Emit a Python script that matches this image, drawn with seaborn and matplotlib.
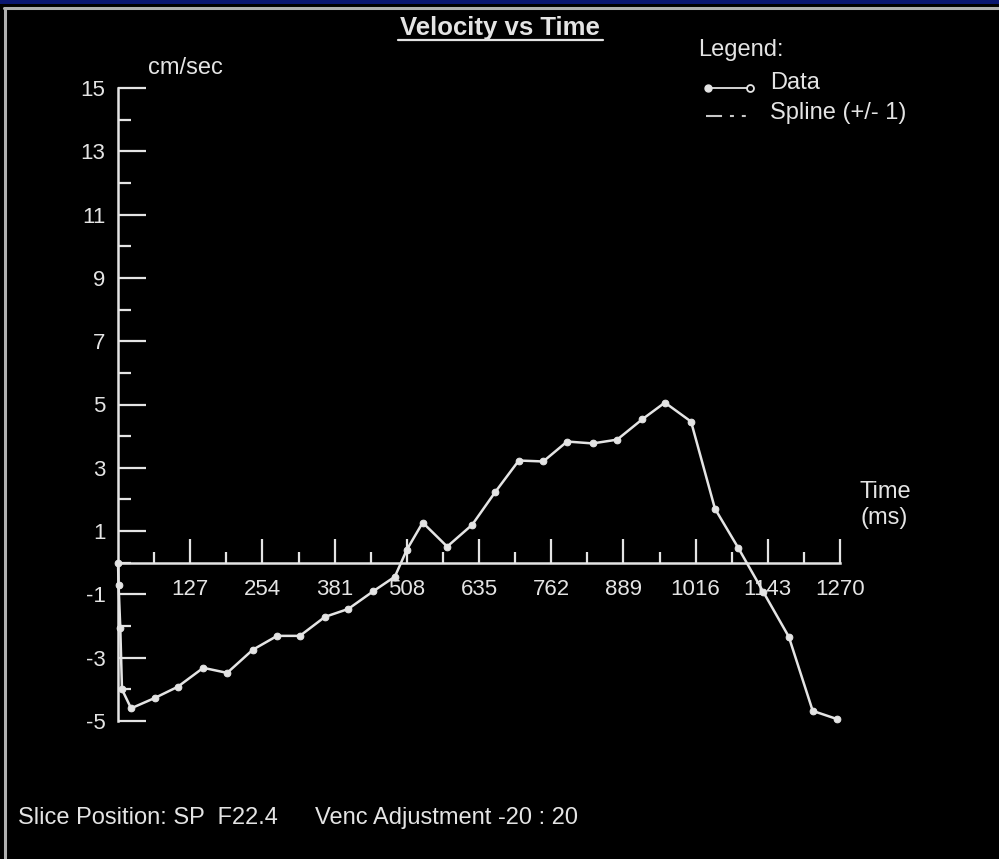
import numpy as np
import pandas as pd
import matplotlib
matplotlib.use("Agg")
import matplotlib.pyplot as plt
import seaborn as sns
from matplotlib.lines import Line2D
from matplotlib.patches import Rectangle

# ---- data ----
time_ms = [0, 1, 4, 7, 23, 65, 105, 150, 192, 237, 280, 320, 364, 405, 449,
           487, 508, 536, 579, 623, 663, 705, 748, 790, 835, 878, 922, 962,
           1008, 1050, 1091, 1135, 1180, 1222, 1265]
velocity = [0.0, -0.7, -2.05, -4.0, -4.6, -4.27, -3.92, -3.32, -3.48, -2.75,
            -2.31, -2.31, -1.71, -1.46, -0.9, -0.44, 0.41, 1.27, 0.51, 1.2,
            2.22, 3.23, 3.2, 3.83, 3.77, 3.89, 4.53, 5.06, 4.46, 1.71, 0.47,
            -0.92, -2.34, -4.68, -4.94]
x_major = [127, 254, 381, 508, 635, 762, 889, 1016, 1143, 1270]
x_labels = [str(v) for v in x_major]
y_major = [-5, -3, -1, 1, 3, 5, 7, 9, 11, 13, 15]
y_minor = [-4, -2, 0, 2, 4, 6, 8, 10, 12, 14]

df = pd.DataFrame({"time": time_ms, "velocity": velocity})

W, H = 999, 859
FG = "#e4e4e4"
sns.set_theme(style="dark", rc={"axes.facecolor": "black", "figure.facecolor": "black",
                                "axes.grid": False, "xtick.bottom": True,
                                "ytick.left": True})
plt.rcParams["font.family"] = ["Liberation Sans", "DejaVu Sans"]


def fx(px):
    return px / W


def fy(py):
    return 1 - py / H


fig = plt.figure(figsize=(W / 100, H / 100), dpi=100, facecolor="black")

# frame decoration
fig.add_artist(Rectangle((0, fy(4)), 1, 4 / H, transform=fig.transFigure,
                         color="#0a1670", lw=0))
fig.add_artist(Line2D([fx(4), 1], [fy(8), fy(8)], transform=fig.transFigure,
                      color="#b0b0b0", lw=2.2))
fig.add_artist(Line2D([fx(5), fx(5)], [fy(8), 0], transform=fig.transFigure,
                      color="#b0b0b0", lw=2.2))

ax = fig.add_axes([fx(118), fy(721), 722 / W, 633 / H])
ax.set_facecolor("none")

sns.lineplot(data=df, x="time", y="velocity", ax=ax, sort=False, estimator=None,
             color=FG, lw=1.8, marker="o", markersize=4.8, markeredgecolor=FG,
             markerfacecolor=FG, clip_on=False)

ax.set_xlim(0, 1270)
ax.set_ylim(-5, 15)
ax.set_xlabel("")
ax.set_ylabel("")
ax.grid(False)

for s in ["top", "right"]:
    ax.spines[s].set_visible(False)
ax.spines["left"].set_position(("data", 0))
ax.spines["bottom"].set_position(("data", 0))
ax.spines["left"].set_bounds(-5, 15)
ax.spines["bottom"].set_bounds(0, 1270)
for s in ["left", "bottom"]:
    ax.spines[s].set_color(FG)
    ax.spines[s].set_linewidth(1.8)

ax.set_xticks(x_major)
ax.set_xticklabels(x_labels)
ax.set_xticks([v - 63.5 for v in x_major], minor=True)
ax.set_yticks(y_major)
ax.set_yticklabels([str(v) for v in y_major])
ax.set_yticks(y_minor, minor=True)

ax.tick_params(axis="x", which="both", bottom=True, top=False)
ax.tick_params(axis="y", which="both", left=True, right=False)
ax.tick_params(axis="x", which="major", direction="in", length=17, width=1.6,
               color=FG, pad=12, labelsize=16, labelcolor=FG)
ax.tick_params(axis="x", which="minor", direction="in", length=8, width=1.6,
               color=FG)
ax.tick_params(axis="y", which="major", direction="in", length=20, width=1.6,
               color=FG, pad=9, labelsize=16, labelcolor=FG)
ax.tick_params(axis="y", which="minor", direction="in", length=9, width=1.6,
               color=FG)

# texts
fig.text(fx(500), fy(28), "Velocity vs Time", ha="center", va="center",
         fontsize=18.5, weight="bold", color=FG)
fig.add_artist(Line2D([fx(398), fx(603)], [fy(40), fy(40)], transform=fig.transFigure,
                      color=FG, lw=1.6))
fig.text(fx(148), fy(68), "cm/sec", ha="left", va="center", fontsize=17, color=FG)
fig.text(fx(698), fy(50), "Legend:", ha="left", va="center", fontsize=17, color=FG)
fig.add_artist(Line2D([fx(708), fx(750)], [fy(88), fy(88)], transform=fig.transFigure,
                      color=FG, lw=1.3))
fig.add_artist(Line2D([fx(708)], [fy(88)], transform=fig.transFigure, marker="o",
                      ms=5, color=FG, lw=0))
fig.add_artist(Line2D([fx(750)], [fy(88)], transform=fig.transFigure, marker="o",
                      ms=5, mfc="black", mec=FG, mew=1.3, lw=0))
fig.text(fx(770), fy(83), "Data", ha="left", va="center", fontsize=17, color=FG)
fig.add_artist(Line2D([fx(706), fx(752)], [fy(116), fy(116)], transform=fig.transFigure,
                      color="#c8c8c8", lw=1.5, ls=(0, (7.7, 3.8, 1.9, 3.8, 1.9, 10))))
fig.text(fx(770), fy(113), "Spline (+/- 1)", ha="left", va="center", fontsize=17,
         color=FG)
fig.text(fx(860), fy(492), "Time", ha="left", va="center", fontsize=17, color=FG)
fig.text(fx(860), fy(518), "(ms)", ha="left", va="center", fontsize=17, color=FG)
fig.text(fx(18), fy(818), "Slice Position: SP  F22.4", ha="left", va="center",
         fontsize=17, color=FG)
fig.text(fx(315), fy(818), "Venc Adjustment -20 : 20", ha="left", va="center",
         fontsize=17, color=FG)

fig.savefig("out.png", dpi=100, facecolor="black")
